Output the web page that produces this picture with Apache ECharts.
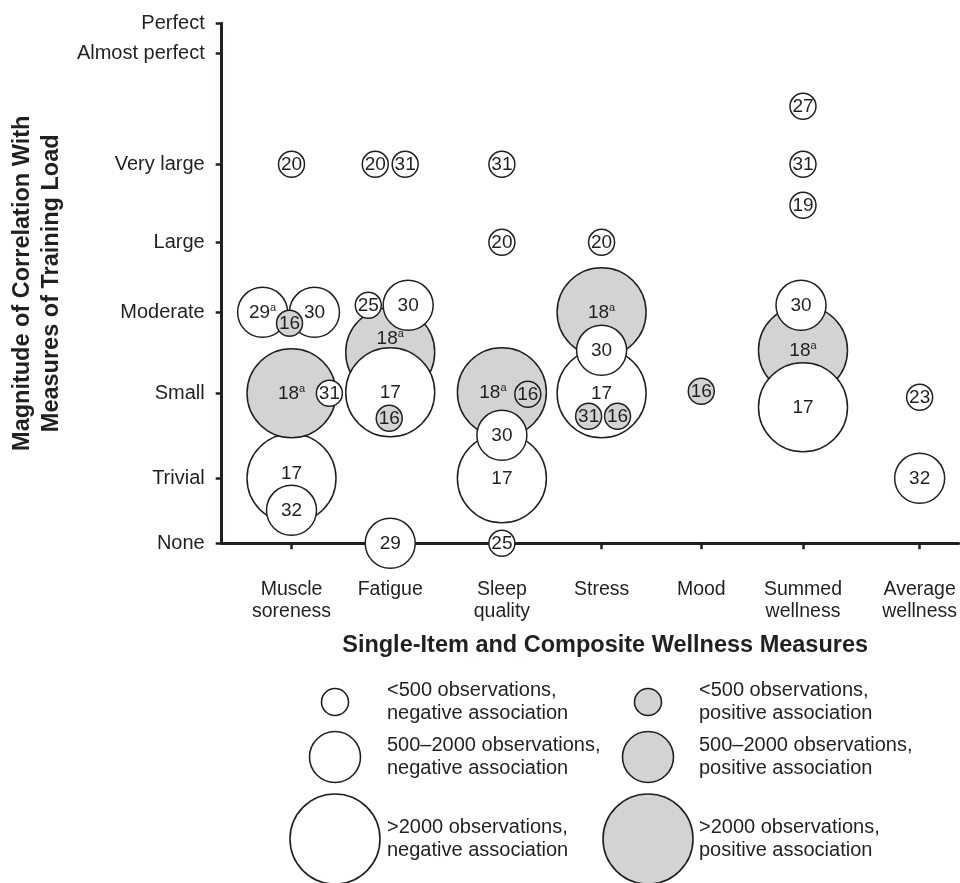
<!DOCTYPE html>
<html>
<head>
<meta charset="utf-8">
<title>Wellness measures and training load</title>
<script src="https://cdn.jsdelivr.net/npm/echarts@6/dist/echarts.min.js"></script>
<style>
  html, body { margin: 0; padding: 0; background: #fff; }
  #chart { width: 960px; height: 883px; }
</style>
</head>
<body>
<div id="chart"></div>
<script>
// x axis: measures (positions in axis units, the source spacing is uneven)
const measures = ['Muscle\nsoreness', 'Fatigue', 'Sleep\nquality', 'Stress', 'Mood', 'Summed\nwellness', 'Average\nwellness']
const measureX = [0.70, 1.69, 2.81, 3.81, 4.81, 5.83, 7.00]

// y axis: magnitude of correlation
const levels = ['None', 'Trivial', 'Small', 'Moderate', 'Large', 'Very large', 'Almost perfect', 'Perfect']
const levelY = [0, 0.65, 1.50, 2.31, 3.01, 3.79, 4.90, 5.20]

// [study, x shift, magnitude, size class (0 <500, 1 500-2000, 2 >2000 obs), positive association]
// listed in drawing order (later ones sit on top)
const muscleSoreness = [
  ['20', 0, 3.79, 0, 0],
  ['29a', -0.29, 2.31, 1, 0],
  ['30', 0.23, 2.31, 1, 0],
  ['16', -0.02, 2.20, 0, 1],
  ['17', 0, 0.65, 2, 0],
  ['32', 0, 0.33, 1, 0],
  ['18a', 0, 1.50, 2, 1],
  ['31', 0.38, 1.50, 0, 0],
]
const fatigue = [
  ['20', -0.15, 3.79, 0, 0],
  ['31', 0.15, 3.79, 0, 0],
  ['18a', 0, 1.91, 2, 1],
  ['17', 0, 1.51, 2, 0],
  ['25', -0.22, 2.38, 0, 0],
  ['30', 0.18, 2.38, 1, 0],
  ['16', -0.01, 1.25, 0, 1],
  ['29', 0, 0, 1, 0],
]
const sleepQuality = [
  ['31', 0, 3.79, 0, 0],
  ['20', 0, 3.01, 0, 0],
  ['18a', 0, 1.51, 2, 1],
  ['16', 0.26, 1.49, 0, 1],
  ['17', 0, 0.65, 2, 0],
  ['30', 0, 1.08, 1, 0],
  ['25', 0, 0, 0, 0],
]
const stress = [
  ['20', 0, 3.01, 0, 0],
  ['18a', 0, 2.31, 2, 1],
  ['17', 0, 1.50, 2, 0],
  ['30', 0, 1.93, 1, 0],
  ['31', -0.13, 1.27, 0, 1],
  ['16', 0.16, 1.27, 0, 1],
]
const mood = [
  ['16', 0, 1.52, 0, 1],
]
const summedWellness = [
  ['27', 0, 4.37, 0, 0],
  ['31', 0, 3.79, 0, 0],
  ['19', 0, 3.38, 0, 0],
  ['18a', 0, 1.93, 2, 1],
  ['17', 0, 1.36, 2, 0],
  ['30', -0.02, 2.38, 1, 0],
]
const averageWellness = [
  ['23', 0, 1.46, 0, 0],
  ['32', 0, 0.65, 1, 0],
]

const sizeNames = ['<500 observations,', '500\u20132000 observations,', '>2000 observations,']
const signNames = ['negative association', 'positive association']

const INK = '#231f20'
const GREY = '#d1d3d4'
const FONT = '"Liberation Sans", Arial, Helvetica, sans-serif'
const symbolSizes = [26, 50, 89]

// where the study number is moved off the bubble centre so it stays visible
const labelNudge = {
  '0:17': [0, -5],
  '1:18a': [0, -14],
  '2:18a': [-9, 0],
}

const groups = [muscleSoreness, fatigue, sleepQuality, stress, mood, summedWellness, averageWellness]
const bubbles = []
groups.forEach((rows, m) => {
  rows.forEach(([study, dx, y, size, positive]) => {
    bubbles.push({
      name: study,
      value: [measureX[m] + dx, y],
      symbolSize: symbolSizes[size],
      itemStyle: { color: positive ? GREY : '#fff' },
      label: { offset: labelNudge[m + ':' + study] || [0, 0] },
    })
  })
})

// legend drawn as plain graphics, two columns
const legend = []
const rowY = [702, 757, 839]
;[0, 1].forEach((sign) => {
  const cx = sign ? 648 : 335
  const tx = sign ? 699 : 387
  sizeNames.forEach((txt, i) => {
    legend.push({
      type: 'circle',
      shape: { cx: cx, cy: rowY[i], r: (symbolSizes[i] + 1) / 2 },
      style: { fill: sign ? GREY : '#fff', stroke: INK, lineWidth: 1.6 },
    })
    legend.push({
      type: 'text',
      x: tx,
      y: rowY[i],
      style: {
        text: txt + '\n' + signNames[sign],
        fill: INK,
        fontSize: 20,
        fontFamily: FONT,
        lineHeight: 23,
        verticalAlign: 'middle',
      },
    })
  })
})

const chart = echarts.init(document.getElementById('chart'))
chart.setOption({
  animation: false,
  backgroundColor: '#fff',
  grid: { left: 221, right: 0, top: 23.3, bottom: 339.7 },
  xAxis: {
    type: 'value',
    min: 0,
    max: 7.39,
    name: 'Single-Item and Composite Wellness Measures',
    nameLocation: 'middle',
    nameGap: 90,
    nameTextStyle: { fontSize: 23.5, fontWeight: 'bold', fontFamily: FONT, color: INK, padding: [0, 0, 0, 30] },
    splitLine: { show: false },
    axisLine: { lineStyle: { color: INK, width: 3 } },
    axisTick: { customValues: measureX, length: 6, lineStyle: { color: INK, width: 2.5 } },
    axisLabel: {
      customValues: measureX,
      margin: 35,
      fontSize: 19.5,
      lineHeight: 22,
      fontFamily: FONT,
      color: INK,
      formatter: (v) => measures[measureX.indexOf(v)],
    },
  },
  yAxis: {
    type: 'value',
    min: 0,
    max: 5.20,
    name: 'Magnitude of Correlation With\nMeasures of Training Load',
    nameLocation: 'middle',
    nameGap: 155,
    nameTextStyle: { fontSize: 23.5, fontWeight: 'bold', fontFamily: FONT, color: INK, lineHeight: 29 },
    splitLine: { show: false },
    axisLine: { lineStyle: { color: INK, width: 3 } },
    axisTick: { customValues: levelY, length: 6, lineStyle: { color: INK, width: 2.5 } },
    axisLabel: {
      customValues: levelY,
      margin: 17,
      fontSize: 20,
      fontFamily: FONT,
      color: INK,
      formatter: (v) => levels[levelY.indexOf(v)],
    },
  },
  series: [
    {
      type: 'scatter',
      clip: false,
      data: bubbles,
      itemStyle: { borderColor: INK, borderWidth: 1.5, opacity: 1 },
      emphasis: { disabled: true },
      label: {
        show: true,
        position: 'inside',
        color: INK,
        fontSize: 19,
        lineHeight: 20,
        fontFamily: FONT,
        formatter: (p) => p.name.replace(/a$/, '{sup|a}'),
        rich: {
          sup: { fontSize: 11, lineHeight: 11, verticalAlign: 'top', color: INK, fontFamily: FONT },
        },
      },
    },
  ],
  graphic: legend,
})
</script>
</body>
</html>
